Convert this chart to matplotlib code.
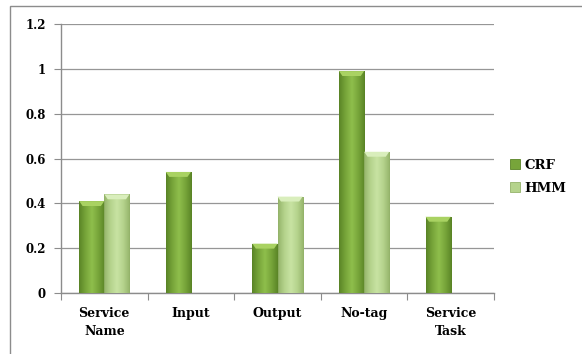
import numpy as np
import matplotlib
matplotlib.use("Agg")
import matplotlib.pyplot as plt
from matplotlib.colors import LinearSegmentedColormap
from matplotlib.patches import Polygon, Rectangle

categories = ["Service\nName", "Input", "Output", "No-tag", "Service\nTask"]
crf = [0.41, 0.54, 0.22, 0.99, 0.34]
hmm = [0.44, 0.0, 0.43, 0.63, 0.0]
series_names = ["CRF", "HMM"]
yticks = [0, 0.2, 0.4, 0.6, 0.8, 1, 1.2]
ytick_labels = ["0", "0.2", "0.4", "0.6", "0.8", "1", "1.2"]

# shading stops for each series: edge, body, highlight, top bevel
shades = {
    "CRF": ["#5a8426", "#77a53a", "#8fbf4c", "#a9d262"],
    "HMM": ["#94b36a", "#b5d38c", "#c8e3a3", "#d9eebc"],
}

plt.rcParams["font.family"] = ["DejaVu Serif"]
fig = plt.figure(figsize=(5.82, 3.54), dpi=100)
ax = fig.add_axes([61 / 582, 1 - 293 / 354, 433 / 582, 269 / 354])

# outer chart frame
fig.patches.append(Rectangle((10 / 582, -0.05), 1.0, 1 - 6 / 354 + 0.05,
                             transform=fig.transFigure, fill=False,
                             edgecolor="#8c8c8c", linewidth=1.0))

w = 0.29
x = np.arange(len(categories))


def shaded_bars(xpos, vals, name):
    edge, body, hi, top = shades[name]
    cmap = LinearSegmentedColormap.from_list(
        name, [edge, body, hi, body, edge], N=256)
    bars = ax.bar(xpos, vals, width=w, color="none", edgecolor="none", zorder=3)
    grad = np.linspace(0, 1, 256).reshape(1, -1)
    for b, v in zip(bars, vals):
        if v <= 0:
            continue
        x0 = b.get_x()
        im = ax.imshow(grad, cmap=cmap, aspect="auto", zorder=3,
                       extent=[x0, x0 + w, 0, v], interpolation="bicubic")
        im.set_clip_path(b)
        ax.add_patch(Rectangle((x0, 0), w, v, fill=False,
                               edgecolor=edge, linewidth=0.6, zorder=4))
        dx, dy = 0.04, 0.022
        ax.add_patch(Polygon([[x0, v], [x0 + w, v], [x0 + w - dx, v - dy],
                              [x0 + dx, v - dy]], closed=True,
                             facecolor=top, edgecolor="none", zorder=4))
    return bars


shaded_bars(x - w / 2, crf, "CRF")
shaded_bars(x + w / 2, hmm, "HMM")

ax.set_xlim(-0.5, len(categories) - 0.5)
ax.set_ylim(0, 1.2)
ax.set_yticks(yticks)
ax.set_yticklabels(ytick_labels, fontsize=8.5, fontweight="bold")
ax.yaxis.grid(True, color="#969696", linewidth=0.9, zorder=0)
ax.set_axisbelow(True)

ax.set_xticks(np.arange(len(categories) + 1) - 0.5)
ax.set_xticklabels([])
ax.set_xticks(x, minor=True)
ax.set_xticklabels(categories, minor=True, fontsize=9, fontweight="bold",
                   linespacing=1.55)
ax.tick_params(axis="x", which="minor", length=0, pad=10)
ax.tick_params(axis="x", which="major", length=5, color="#8c8c8c")
ax.tick_params(axis="y", length=5, color="#8c8c8c", pad=6)

for s in ["top", "right"]:
    ax.spines[s].set_visible(False)
for s in ["left", "bottom"]:
    ax.spines[s].set_color("#8c8c8c")
    ax.spines[s].set_linewidth(1.0)

# legend
handles = [Rectangle((0, 0), 1, 1, facecolor=shades[n][1],
                     edgecolor=shades[n][0], linewidth=0.6) for n in series_names]
fig.legend(handles, series_names, loc="upper left",
           bbox_to_anchor=(498 / 582, 1 - 147 / 354), frameon=False,
           prop={"weight": "bold", "size": 9.5}, handlelength=0.8,
           handleheight=0.8, handletextpad=0.3, labelspacing=0.75)

fig.savefig("out.png", dpi=100)
